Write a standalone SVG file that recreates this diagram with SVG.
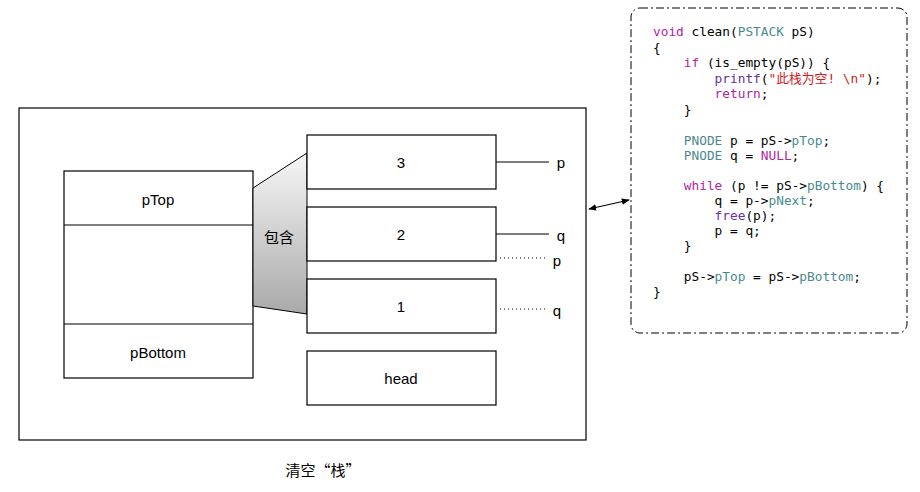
<svg xmlns="http://www.w3.org/2000/svg" width="920" height="492" viewBox="0 0 920 492">
<defs>
<linearGradient id="g" x1="0" y1="0" x2="0" y2="1">
<stop offset="0" stop-color="#f7f7f7"/>
<stop offset="1" stop-color="#a9a9a9"/>
</linearGradient>
<marker id="ah" viewBox="0 0 10 10" refX="9" refY="5" markerWidth="8" markerHeight="8" orient="auto-start-reverse" markerUnits="userSpaceOnUse">
<path d="M0,1 L10,5 L0,9 Z" fill="#000"/>
</marker>
<style>
.b{fill:#fff;stroke:#000;stroke-width:1.2}
.t{font-family:"Liberation Sans",Arial,"Noto Sans CJK SC",sans-serif;font-size:15px;fill:#000;text-anchor:middle;dominant-baseline:central}
.cj{font-family:"Noto Sans CJK SC",sans-serif;font-size:15px;fill:#000;text-anchor:middle;dominant-baseline:central}
.ln{stroke:#000;stroke-width:1.2;fill:none}
.dt{stroke:#000;stroke-width:1;stroke-dasharray:1 3;fill:none}
.c{font-family:"DejaVu Sans Mono","Liberation Mono","Noto Sans CJK SC",monospace;font-size:12.8px;fill:#000;white-space:pre}
.k{fill:#b0249f}
.ty{fill:#4a8a8c}
.f{fill:#6332a5}
.s{fill:#d1201b}
</style>
</defs>
<rect width="920" height="492" fill="#fff"/>
<g id="frame"><rect class="b" x="19" y="108" width="567" height="332"/></g>
<g id="stack">
<rect class="b" x="64" y="171" width="189" height="207"/>
<line class="ln" x1="64" y1="225" x2="253" y2="225"/>
<line class="ln" x1="64" y1="324" x2="253" y2="324"/>
<text class="t" x="158" y="199">pTop</text>
<text class="t" x="158" y="352">pBottom</text>
</g>
<g id="contains">
<polygon points="253,188 307,153 307,314 253,306" fill="url(#g)" stroke="#000" stroke-width="1"/>
<text class="cj" x="279" y="236">包含</text>
</g>
<g id="node3"><rect class="b" x="307" y="135" width="189" height="54"/><text class="t" x="401" y="162">3</text></g>
<g id="node2"><rect class="b" x="307" y="207" width="189" height="54"/><text class="t" x="401" y="234">2</text></g>
<g id="node1"><rect class="b" x="307" y="279" width="189" height="54"/><text class="t" x="401" y="306">1</text></g>
<g id="head"><rect class="b" x="307" y="351" width="189" height="54"/><text class="t" x="401" y="378">head</text></g>
<g id="connectors">
<line class="ln" x1="496" y1="162" x2="549" y2="162"/>
<line class="ln" x1="496" y1="234" x2="549" y2="234"/>
<line class="dt" x1="500" y1="258" x2="548" y2="258"/>
<line class="dt" x1="500" y1="309" x2="548" y2="309"/>
<line class="ln" x1="589" y1="209" x2="629" y2="200" marker-start="url(#ah)" marker-end="url(#ah)"/>
</g>
<g id="labels">
<text class="t" x="561" y="162">p</text>
<text class="t" x="561" y="235">q</text>
<text class="t" x="557" y="260">p</text>
<text class="t" x="557" y="310">q</text>
</g>
<g id="code">
<rect x="631" y="8" width="276" height="325" rx="9" fill="#fff" stroke="#000" stroke-width="1" stroke-dasharray="8 3 2 3"/>
<text class="c" y="36"><tspan class="k" x="653">void</tspan><tspan x="683.8"> clean(</tspan><tspan class="ty" x="737.7">PSTACK</tspan><tspan x="783.9"> pS)</tspan></text>
<text class="c" x="653" y="52">{</text>
<text class="c" y="67"><tspan class="k" x="683.8">if</tspan><tspan x="699.2"> (is_empty(pS)) {</tspan></text>
<text class="c" y="83"><tspan class="f" x="714.6">printf</tspan><tspan x="760.8">(</tspan><tspan class="s" x="768.5">"此栈为空! \n"</tspan>);</text>
<text class="c" y="98"><tspan class="k" x="714.6">return</tspan><tspan x="760.8">;</tspan></text>
<text class="c" x="683.8" y="114">}</text>
<text class="c" y="145"><tspan class="ty" x="683.8">PNODE</tspan><tspan x="722.3"> p = pS-&gt;</tspan><tspan class="ty" x="791.6">pTop</tspan><tspan x="822.4">;</tspan></text>
<text class="c" y="160"><tspan class="ty" x="683.8">PNODE</tspan><tspan x="722.3"> q = </tspan><tspan class="k" x="760.8">NULL</tspan><tspan x="791.6">;</tspan></text>
<text class="c" y="190"><tspan class="k" x="683.8">while</tspan><tspan x="722.3"> (p != pS-&gt;</tspan><tspan class="ty" x="807">pBottom</tspan><tspan x="860.9">) {</tspan></text>
<text class="c" y="205"><tspan x="714.6">q = p-&gt;</tspan><tspan class="ty" x="768.5">pNext</tspan><tspan x="807">;</tspan></text>
<text class="c" y="220"><tspan class="f" x="714.6">free</tspan><tspan x="745.4">(p);</tspan></text>
<text class="c" x="714.6" y="235">p = q;</text>
<text class="c" x="683.8" y="250">}</text>
<text class="c" y="281"><tspan x="683.8">pS-&gt;</tspan><tspan class="ty" x="714.6">pTop</tspan><tspan x="745.4"> = pS-&gt;</tspan><tspan class="ty" x="799.3">pBottom</tspan><tspan x="853.2">;</tspan></text>
<text class="c" x="653" y="296">}</text>
</g>
<g id="caption"><text class="cj" x="323" y="469">清空“栈”</text></g>
</svg>
